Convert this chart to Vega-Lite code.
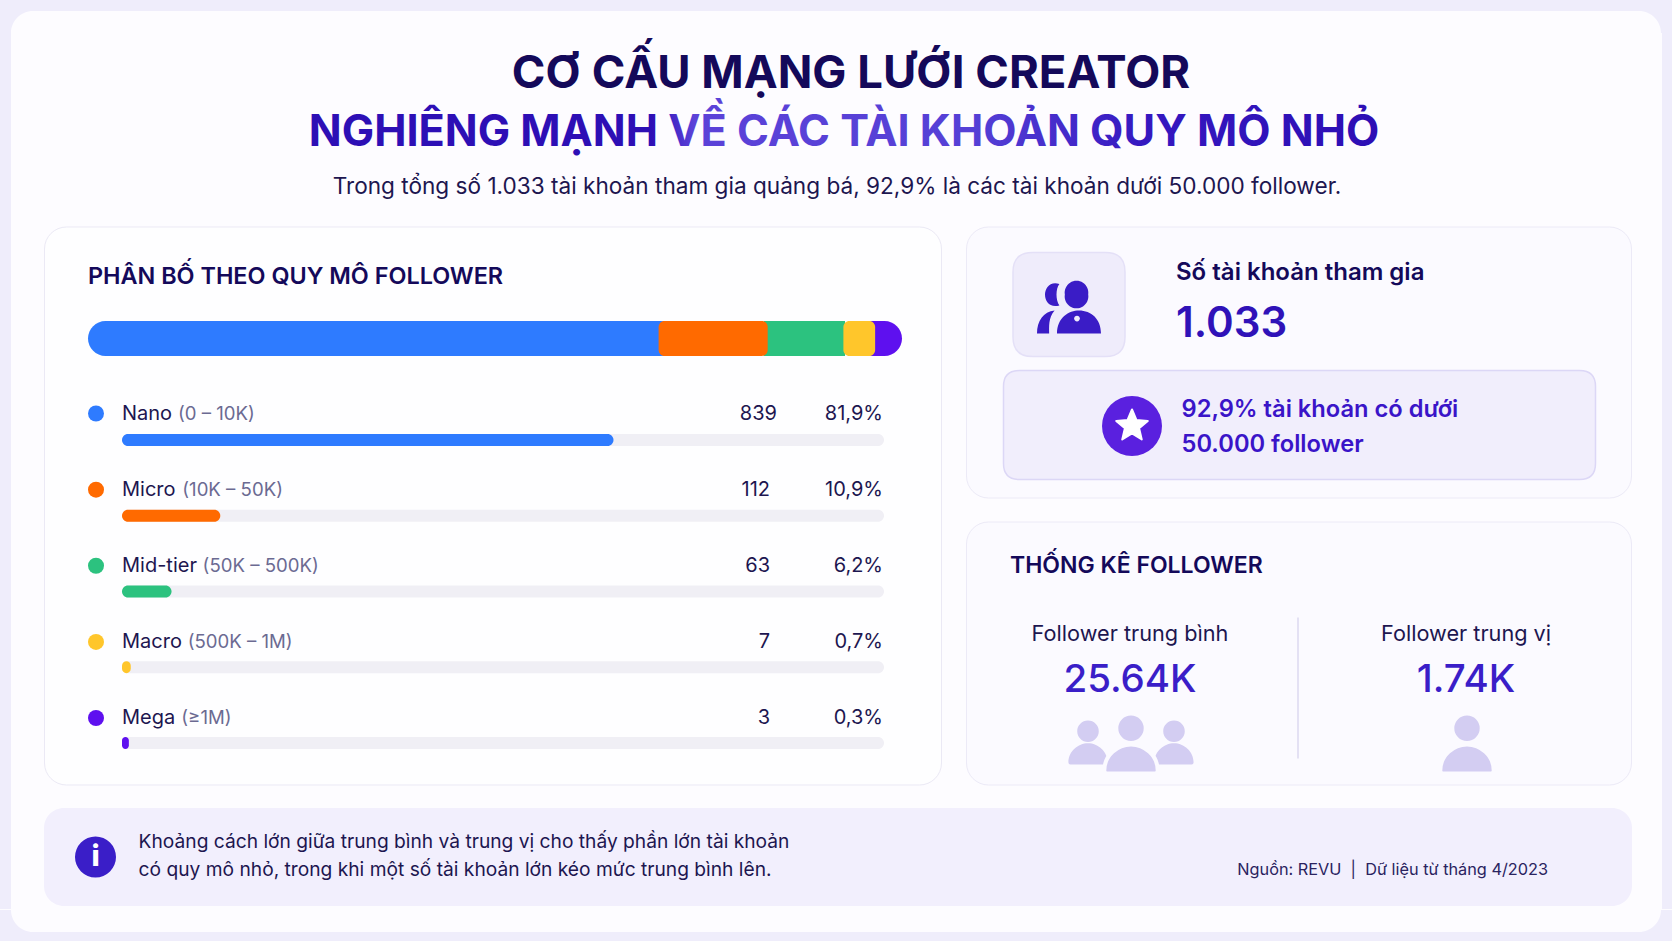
{
"$schema":"https://vega.github.io/schema/vega-lite/v6.json",
"padding":0,
"background":"#fdfcff",
"config":{"view":{"stroke":null},"font":"Inter","text":{"font":"Inter","baseline":"middle"},"axis":{"disable":true}},
"datasets":{
"tiers":[
{"tier":"Nano","range":"(0 – 10K)","count":839,"share":"81,9%","stackStart":0,"stackEnd":72.5,"barPct":64.5},
{"tier":"Micro","range":"(10K – 50K)","count":112,"share":"10,9%","stackStart":70.1,"stackEnd":83.5,"barPct":12.9},
{"tier":"Mid-tier","range":"(50K – 500K)","count":63,"share":"6,2%","stackStart":83,"stackEnd":93,"barPct":6.5},
{"tier":"Macro","range":"(500K – 1M)","count":7,"share":"0,7%","stackStart":92.8,"stackEnd":96.7,"barPct":1.15},
{"tier":"Mega","range":"(≥1M)","count":3,"share":"0,3%","stackStart":94.3,"stackEnd":100,"barPct":0.9}
],
"header":[
{"slot":"t1","text":"CƠ CẤU MẠNG LƯỚI CREATOR"},
{"slot":"t2","text":"NGHIÊNG MẠNH VỀ CÁC TÀI KHOẢN QUY MÔ NHỎ"},
{"slot":"sub","text":"Trong tổng số 1.033 tài khoản tham gia quảng bá, 92,9% là các tài khoản dưới 50.000 follower."}
],
"stats":[
{"stat":"mean","label":"Follower trung bình","value":"25.64K"},
{"stat":"median","label":"Follower trung vị","value":"1.74K"}
],
"one":[{"n":1}]
},
"spacing":0,
"vconcat":[
{"width":1672,"height":33,
 "data":{"name":"one"},
 "mark":{"type":"point","filled":true,"size":2795584,"color":"#efedfb","opacity":1,"strokeWidth":0,"shape":"M-1,0L1,0L1,.03947L.98684,.03947A.02632,.02632 0 0 0 .96053,.01316L-.96053,.01316A.02632,.02632 0 0 0 -.98684,.03947L-1,.03947Z"},
 "encoding":{
  "x":{"datum":"frame","type":"nominal","axis":null,"scale":{"type":"point","domain":["frame","other"],"range":[836,836],"padding":0}},
  "y":{"datum":"frame","type":"nominal","axis":null,"scale":{"type":"point","domain":["frame","other"],"range":[0,0],"padding":0}}
 }},
{"spacing":0,"hconcat":[
 {"width":11,"height":876,"view":{"fill":"#efedfb"},"data":{"values":[]},"mark":"rect","encoding":{}},
 {"width":31.5,"height":1,"data":{"values":[]},"mark":"rect","encoding":{}},
 {"spacing":22.5,"vconcat":[
  {"width":1587,"height":170,"data":{"name":"header"},
   "resolve":{"scale":{"y":"independent"}},
   "encoding":{
    "x":{"field":"slot","type":"nominal","axis":null,"scale":{"type":"point","domain":["sub","t2","t1"],"range":[793,807],"padding":0}},
    "text":{"field":"text","type":"nominal"}},
   "layer":[
    {"transform":[{"filter":"datum.slot==='t1'"}],"mark":{"type":"text","align":"center","fontSize":45.5,"fontWeight":700,"color":"#14095a"},
     "encoding":{"y":{"field":"slot","type":"nominal","axis":null,"scale":{"type":"point","domain":["t1","t2"],"range":[41,100],"padding":0}}}},
    {"transform":[{"filter":"datum.slot==='t2'"}],"mark":{"type":"text","align":"center","fontSize":43.2,"fontWeight":700,"fill":{"gradient":"linear","x1":0,"x2":1,"y1":0,"y2":0,"stops":[{"offset":0,"color":"#2d0fb5"},{"offset":0.32,"color":"#2d0fb5"},{"offset":0.36,"color":"#5b42d8"},{"offset":0.62,"color":"#5540d6"},{"offset":0.78,"color":"#3518c0"},{"offset":1,"color":"#2c0eb4"}]}},
     "encoding":{"y":{"field":"slot","type":"nominal","axis":null,"scale":{"type":"point","domain":["t1","t2"],"range":[41,100],"padding":0}}}},
    {"transform":[{"filter":"datum.slot==='sub'"}],"mark":{"type":"text","align":"center","fontSize":22.6,"fontWeight":400,"color":"#1d1650"},
     "encoding":{"y":{"field":"slot","type":"nominal","axis":null,"scale":{"type":"point","domain":["t2","sub"],"range":[100,153.5],"padding":0}}}}
   ]},
  {"spacing":23,"hconcat":[
   {"width":897,"height":558,"view":{"fill":"#fefeff","stroke":"#ebe9f5","strokeWidth":1,"cornerRadius":22},
    "resolve":{"scale":{"x":"independent","y":"independent"}},
    "layer":[
     {"data":{"values":[{"text":"PHÂN BỐ THEO QUY MÔ FOLLOWER"}]},
      "mark":{"type":"text","align":"left","fontSize":23.4,"fontWeight":600,"color":"#14095a"},
      "encoding":{"text":{"field":"text"},
       "x":{"datum":"title","type":"nominal","axis":null,"scale":{"type":"point","domain":["title","other"],"range":[44,78],"padding":0}},
       "y":{"datum":"title","type":"nominal","axis":null,"scale":{"type":"point","domain":["title","stack"],"range":[50,112],"padding":0}}}},
     {"data":{"name":"tiers"},"transform":[{"filter":"datum.tier==='Nano'"}],
      "mark":{"type":"bar","height":35,"cornerRadius":17.5},
      "encoding":{"x":{"field":"stackStart","type":"quantitative","axis":null,"scale":{"domain":[0,100],"range":[44,858]}},"x2":{"field":"stackEnd"},
       "y":{"datum":"stack","type":"nominal","axis":null,"scale":{"type":"point","domain":["title","stack"],"range":[50,112],"padding":0}},
       "color":{"field":"tier","type":"nominal","legend":null,"scale":{"domain":["Nano","Micro","Mid-tier","Macro","Mega"],"range":["#2e7bff","#ff6a00","#2cc27f","#ffc62b","#5e10ef"]}}}},
     {"data":{"name":"tiers"},"transform":[{"filter":"datum.tier==='Mega'"}],
      "mark":{"type":"bar","height":35,"cornerRadius":17.5},
      "encoding":{"x":{"field":"stackStart","type":"quantitative","axis":null,"scale":{"domain":[0,100],"range":[44,858]}},"x2":{"field":"stackEnd"},
       "y":{"datum":"stack","type":"nominal","axis":null,"scale":{"type":"point","domain":["title","stack"],"range":[50,112],"padding":0}},
       "color":{"field":"tier","type":"nominal","legend":null,"scale":{"domain":["Nano","Micro","Mid-tier","Macro","Mega"],"range":["#2e7bff","#ff6a00","#2cc27f","#ffc62b","#5e10ef"]}}}},
     {"data":{"name":"tiers"},"transform":[{"filter":"datum.tier==='Mid-tier'"}],
      "mark":{"type":"bar","height":35},
      "encoding":{"x":{"field":"stackStart","type":"quantitative","axis":null,"scale":{"domain":[0,100],"range":[44,858]}},"x2":{"field":"stackEnd"},
       "y":{"datum":"stack","type":"nominal","axis":null,"scale":{"type":"point","domain":["title","stack"],"range":[50,112],"padding":0}},
       "color":{"field":"tier","type":"nominal","legend":null,"scale":{"domain":["Nano","Micro","Mid-tier","Macro","Mega"],"range":["#2e7bff","#ff6a00","#2cc27f","#ffc62b","#5e10ef"]}}}},
     {"data":{"name":"tiers"},"transform":[{"filter":"datum.tier==='Micro'||datum.tier==='Macro'"}],
      "mark":{"type":"bar","height":35,"cornerRadius":6},
      "encoding":{"x":{"field":"stackStart","type":"quantitative","axis":null,"scale":{"domain":[0,100],"range":[44,858]}},"x2":{"field":"stackEnd"},
       "y":{"datum":"stack","type":"nominal","axis":null,"scale":{"type":"point","domain":["title","stack"],"range":[50,112],"padding":0}},
       "color":{"field":"tier","type":"nominal","legend":null,"scale":{"domain":["Nano","Micro","Mid-tier","Macro","Mega"],"range":["#2e7bff","#ff6a00","#2cc27f","#ffc62b","#5e10ef"]}}}},
     {"data":{"name":"tiers"},
      "mark":{"type":"point","filled":true,"size":256,"opacity":1},
      "encoding":{"x":{"datum":"dot","type":"nominal","axis":null,"scale":{"type":"point","domain":["dot","label"],"range":[52,78],"padding":0}},
       "y":{"field":"tier","type":"nominal","axis":null,"scale":{"type":"point","domain":["Nano","Micro","Mid-tier","Macro","Mega"],"range":[187,491.5],"padding":0}},
       "color":{"field":"tier","type":"nominal","legend":null,"scale":{"domain":["Nano","Micro","Mid-tier","Macro","Mega"],"range":["#2e7bff","#ff6a00","#2cc27f","#ffc62b","#5e10ef"]}}}},
     {"data":{"name":"tiers"},
      "mark":{"type":"text","align":"left","fontSize":20,"color":"#1d1650"},
      "encoding":{"text":{"field":"tier"},"x":{"datum":"label","type":"nominal","axis":null,"scale":{"type":"point","domain":["dot","label"],"range":[52,78],"padding":0}},
       "y":{"field":"tier","type":"nominal","axis":null,"scale":{"type":"point","domain":["Nano","Micro","Mid-tier","Macro","Mega"],"range":[187,491.5],"padding":0}}}},
     {"data":{"name":"tiers"},"transform":[{"filter":"datum.tier==='Nano'"}],
      "mark":{"type":"text","align":"left","fontSize":18.6,"color":"#6b6a92"},
      "encoding":{"text":{"field":"range"},"x":{"datum":"range","type":"nominal","axis":null,"scale":{"type":"point","domain":["name","range"],"range":[78,134],"padding":0}},
       "y":{"field":"tier","type":"nominal","axis":null,"scale":{"type":"point","domain":["Nano","Micro","Mid-tier","Macro","Mega"],"range":[187,491.5],"padding":0}}}},
     {"data":{"name":"tiers"},"transform":[{"filter":"datum.tier==='Micro'"}],
      "mark":{"type":"text","align":"left","fontSize":18.6,"color":"#6b6a92"},
      "encoding":{"text":{"field":"range"},"x":{"datum":"range","type":"nominal","axis":null,"scale":{"type":"point","domain":["name","range"],"range":[78,138.3],"padding":0}},
       "y":{"field":"tier","type":"nominal","axis":null,"scale":{"type":"point","domain":["Nano","Micro","Mid-tier","Macro","Mega"],"range":[187,491.5],"padding":0}}}},
     {"data":{"name":"tiers"},"transform":[{"filter":"datum.tier==='Mid-tier'"}],
      "mark":{"type":"text","align":"left","fontSize":18.6,"color":"#6b6a92"},
      "encoding":{"text":{"field":"range"},"x":{"datum":"range","type":"nominal","axis":null,"scale":{"type":"point","domain":["name","range"],"range":[78,158.6],"padding":0}},
       "y":{"field":"tier","type":"nominal","axis":null,"scale":{"type":"point","domain":["Nano","Micro","Mid-tier","Macro","Mega"],"range":[187,491.5],"padding":0}}}},
     {"data":{"name":"tiers"},"transform":[{"filter":"datum.tier==='Macro'"}],
      "mark":{"type":"text","align":"left","fontSize":18.6,"color":"#6b6a92"},
      "encoding":{"text":{"field":"range"},"x":{"datum":"range","type":"nominal","axis":null,"scale":{"type":"point","domain":["name","range"],"range":[78,143.7],"padding":0}},
       "y":{"field":"tier","type":"nominal","axis":null,"scale":{"type":"point","domain":["Nano","Micro","Mid-tier","Macro","Mega"],"range":[187,491.5],"padding":0}}}},
     {"data":{"name":"tiers"},"transform":[{"filter":"datum.tier==='Mega'"}],
      "mark":{"type":"text","align":"left","fontSize":18.6,"color":"#6b6a92"},
      "encoding":{"text":{"field":"range"},"x":{"datum":"range","type":"nominal","axis":null,"scale":{"type":"point","domain":["name","range"],"range":[78,137.3],"padding":0}},
       "y":{"field":"tier","type":"nominal","axis":null,"scale":{"type":"point","domain":["Nano","Micro","Mid-tier","Macro","Mega"],"range":[187,491.5],"padding":0}}}},
     {"data":{"name":"tiers"},"transform":[{"filter":"datum.tier!=='Nano'"}],
      "mark":{"type":"text","align":"right","fontSize":20,"color":"#1d1650"},
      "encoding":{"text":{"field":"count","type":"quantitative"},"x":{"datum":"count","type":"nominal","axis":null,"scale":{"type":"point","domain":["count","share"],"range":[726,839],"padding":0}},
       "y":{"field":"tier","type":"nominal","axis":null,"scale":{"type":"point","domain":["Nano","Micro","Mid-tier","Macro","Mega"],"range":[187,491.5],"padding":0}}}},
     {"data":{"name":"tiers"},"transform":[{"filter":"datum.tier==='Nano'"}],
      "mark":{"type":"text","align":"right","fontSize":20,"color":"#1d1650"},
      "encoding":{"text":{"field":"count","type":"quantitative"},"x":{"datum":"count","type":"nominal","axis":null,"scale":{"type":"point","domain":["count","share"],"range":[733,839],"padding":0}},
       "y":{"field":"tier","type":"nominal","axis":null,"scale":{"type":"point","domain":["Nano","Micro","Mid-tier","Macro","Mega"],"range":[187,491.5],"padding":0}}}},
     {"data":{"name":"tiers"},
      "mark":{"type":"text","align":"right","fontSize":20,"color":"#1d1650"},
      "encoding":{"text":{"field":"share"},"x":{"datum":"share","type":"nominal","axis":null,"scale":{"type":"point","domain":["count","share"],"range":[726,839],"padding":0}},
       "y":{"field":"tier","type":"nominal","axis":null,"scale":{"type":"point","domain":["Nano","Micro","Mid-tier","Macro","Mega"],"range":[187,491.5],"padding":0}}}},
     {"data":{"name":"tiers"},
      "mark":{"type":"bar","height":12,"cornerRadius":6,"color":"#f0eff5"},
      "encoding":{"x":{"datum":100,"type":"quantitative","stack":null,"axis":null,"scale":{"domain":[0,100],"range":[78,840]}},
       "y":{"field":"tier","type":"nominal","axis":null,"scale":{"type":"point","domain":["Nano","Micro","Mid-tier","Macro","Mega"],"range":[213.5,516.5],"padding":0}}}},
     {"data":{"name":"tiers"},
      "mark":{"type":"bar","height":12,"cornerRadius":6},
      "encoding":{"x":{"field":"barPct","type":"quantitative","stack":null,"axis":null,"scale":{"domain":[0,100],"range":[78,840]}},
       "y":{"field":"tier","type":"nominal","axis":null,"scale":{"type":"point","domain":["Nano","Micro","Mid-tier","Macro","Mega"],"range":[213.5,516.5],"padding":0}},
       "color":{"field":"tier","type":"nominal","legend":null,"scale":{"domain":["Nano","Micro","Mid-tier","Macro","Mega"],"range":["#2e7bff","#ff6a00","#2cc27f","#ffc62b","#5e10ef"]}}}}
    ]},
   {"spacing":22,"vconcat":[
    {"width":665,"height":271,"view":{"fill":"#fbfaff","stroke":"#eceaf7","strokeWidth":1,"cornerRadius":22},
     "resolve":{"scale":{"x":"independent","y":"independent"}},
     "layer":[
      {"data":{"name":"one"},
       "mark":{"type":"point","filled":true,"opacity":1,"size":12544,"fill":"#efecfb","stroke":"#e4e0f7","strokeWidth":1.5,"shape":"M-.65,-.93L.65,-.93Q1,-.93 1,-.58L1,.58Q1,.93 .65,.93L-.65,.93Q-1,.93 -1,.58L-1,-.58Q-1,-.93 -.65,-.93Z"},
       "encoding":{"x":{"datum":"tile","type":"nominal","axis":null,"scale":{"type":"point","domain":["tile","callout"],"range":[103,333.5],"padding":0}},
        "y":{"datum":"tile","type":"nominal","axis":null,"scale":{"type":"point","domain":["tile","callout"],"range":[78,198.5],"padding":0}}}},
      {"data":{"name":"one"},
       "mark":{"type":"point","filled":true,"opacity":1,"size":350464,"fill":"#f1eefc","stroke":"#dcd7f6","strokeWidth":1.5,"shape":"M-.946,-.184L.946,-.184Q1,-.184 1,-.13L1,.13Q1,.184 .946,.184L-.946,.184Q-1,.184 -1,.13L-1,-.13Q-1,-.184 -.946,-.184Z"},
       "encoding":{"x":{"datum":"callout","type":"nominal","axis":null,"scale":{"type":"point","domain":["tile","callout"],"range":[103,333.5],"padding":0}},
        "y":{"datum":"callout","type":"nominal","axis":null,"scale":{"type":"point","domain":["tile","callout"],"range":[78,198.5],"padding":0}}}},
      {"data":{"name":"one"},
       "mark":{"type":"point","filled":true,"opacity":1,"size":4096,"color":"#3a1cc6","strokeWidth":0,"shape":"M-.13,-.42A.37,.37 0 1 1 .6,-.42A.37,.37 0 1 1 -.13,-.42ZM-.3,-.75C-.6,-.85 -.75,-.6 -.75,-.42C-.75,-.2 -.6,0 -.3,-.08C-.42,-.25 -.42,-.6 -.3,-.75ZM-.375,.8C-.375,.3 0,.08 .31,.08C.7,.08 1,.35 1,.8ZM-1,.8C-1,.4 -.8,.12 -.45,.08C-.65,.3 -.62,.6 -.62,.8Z"},
       "encoding":{"x":{"datum":"icon","type":"nominal","axis":null,"scale":{"type":"point","domain":["icon","star"],"range":[103,166],"padding":0}},
        "y":{"datum":"icon","type":"nominal","axis":null,"scale":{"type":"point","domain":["icon","star"],"range":[81.5,199.5],"padding":0}}}},
      {"data":{"name":"one"},
       "mark":{"type":"point","filled":true,"opacity":1,"size":4096,"color":"#efecfb","strokeWidth":0,"shape":"M.16,.33A.09,.09 0 1 1 .34,.33A.09,.09 0 1 1 .16,.33Z"},
       "encoding":{"x":{"datum":"icon","type":"nominal","axis":null,"scale":{"type":"point","domain":["icon","star"],"range":[103,166],"padding":0}},
        "y":{"datum":"icon","type":"nominal","axis":null,"scale":{"type":"point","domain":["icon","star"],"range":[81.5,199.5],"padding":0}}}},
      {"data":{"name":"one"},
       "mark":{"type":"point","shape":"circle","filled":true,"opacity":1,"size":3600,"color":"#5a20df"},
       "encoding":{"x":{"datum":"star","type":"nominal","axis":null,"scale":{"type":"point","domain":["icon","star"],"range":[103,166],"padding":0}},
        "y":{"datum":"star","type":"nominal","axis":null,"scale":{"type":"point","domain":["icon","star"],"range":[81.5,199.5],"padding":0}}}},
      {"data":{"name":"one"},
       "mark":{"type":"point","filled":true,"opacity":1,"size":1100,"fill":"#ffffff","stroke":"#ffffff","strokeWidth":2,"strokeJoin":"round","shape":"M0,-1L.265,-.364L.951,-.309L.428,.139L.588,.809L0,.45L-.588,.809L-.428,.139L-.951,-.309L-.265,-.364Z"},
       "encoding":{"x":{"datum":"star","type":"nominal","axis":null,"scale":{"type":"point","domain":["icon","star"],"range":[103,166],"padding":0}},
        "y":{"datum":"star","type":"nominal","axis":null,"scale":{"type":"point","domain":["icon","star"],"range":[81.5,199.5],"padding":0}}}},
      {"data":{"values":[{"text":"Số tài khoản tham gia"}]},
       "mark":{"type":"text","align":"left","fontSize":24,"fontWeight":600,"color":"#14095a"},
       "encoding":{"text":{"field":"text"},"x":{"datum":"kpi","type":"nominal","axis":null,"scale":{"type":"point","domain":["kpi","callout"],"range":[210,215.5],"padding":0}},
        "y":{"datum":"label","type":"nominal","axis":null,"scale":{"type":"point","domain":["label","value"],"range":[46.5,97],"padding":0}}}},
      {"data":{"values":[{"text":"1.033"}]},
       "mark":{"type":"text","align":"left","fontSize":42,"fontWeight":600,"color":"#2f12b8"},
       "encoding":{"text":{"field":"text"},"x":{"datum":"kpi","type":"nominal","axis":null,"scale":{"type":"point","domain":["kpi","callout"],"range":[210,215.5],"padding":0}},
        "y":{"datum":"value","type":"nominal","axis":null,"scale":{"type":"point","domain":["label","value"],"range":[46.5,97],"padding":0}}}},
      {"data":{"values":[{"line":"l1","text":"92,9% tài khoản có dưới"},{"line":"l2","text":"50.000 follower"}]},
       "mark":{"type":"text","align":"left","fontSize":23.7,"fontWeight":600,"color":"#3a14c8"},
       "encoding":{"text":{"field":"text"},"x":{"datum":"callout","type":"nominal","axis":null,"scale":{"type":"point","domain":["kpi","callout"],"range":[210,215.5],"padding":0}},
        "y":{"field":"line","type":"nominal","axis":null,"scale":{"type":"point","domain":["l1","l2"],"range":[183.5,218.5],"padding":0}}}}
     ]},
    {"width":665,"height":263,"view":{"fill":"#fbfaff","stroke":"#eceaf7","strokeWidth":1,"cornerRadius":22},
     "resolve":{"scale":{"x":"independent","y":"independent"}},
     "layer":[
      {"data":{"values":[{"text":"THỐNG KÊ FOLLOWER"}]},
       "mark":{"type":"text","align":"left","fontSize":23,"fontWeight":600,"color":"#14095a"},
       "encoding":{"text":{"field":"text"},"x":{"datum":"title","type":"nominal","axis":null,"scale":{"type":"point","domain":["title","other"],"range":[44,100],"padding":0}},
        "y":{"datum":"title","type":"nominal","axis":null,"scale":{"type":"point","domain":["title","other"],"range":[44,100],"padding":0}}}},
      {"data":{"name":"stats"},
       "mark":{"type":"text","align":"center","fontSize":21.7,"color":"#1d1650"},
       "encoding":{"text":{"field":"label"},"x":{"field":"stat","type":"nominal","axis":null,"scale":{"type":"point","domain":["mean","divider","median"],"range":[164,500],"padding":0}},
        "y":{"datum":"label","type":"nominal","axis":null,"scale":{"type":"point","domain":["label","value"],"range":[112,158],"padding":0}}}},
      {"data":{"name":"stats"},
       "mark":{"type":"text","align":"center","fontSize":38.5,"fontWeight":500,"color":"#3a1ec8"},
       "encoding":{"text":{"field":"value"},"x":{"field":"stat","type":"nominal","axis":null,"scale":{"type":"point","domain":["mean","divider","median"],"range":[164,500],"padding":0}},
        "y":{"datum":"value","type":"nominal","axis":null,"scale":{"type":"point","domain":["label","value"],"range":[112,158],"padding":0}}}},
      {"data":{"name":"one"},
       "mark":{"type":"point","filled":false,"opacity":1,"size":19881,"stroke":"#dcd9f0","strokeWidth":1.5,"shape":"M0,-1L0,1"},
       "encoding":{"x":{"datum":"divider","type":"nominal","axis":null,"scale":{"type":"point","domain":["mean","divider","median"],"range":[164,500],"padding":0}},
        "y":{"datum":"divider","type":"nominal","axis":null,"scale":{"type":"point","domain":["divider","people"],"range":[166.5,222],"padding":0}}}},
      {"data":{"values":[{"side":"left"},{"side":"right"}]},
       "mark":{"type":"point","filled":true,"opacity":1,"size":1936,"color":"#d3cdf2","strokeWidth":0,"shape":"M-.49,-.51A.49,.49 0 1 1 .49,-.51A.49,.49 0 1 1 -.49,-.51ZM-.89,.9C-.89,.4 -.45,.03 0,.03C.45,.03 .89,.4 .89,.9Q.89,1 .8,1L-.8,1Q-.89,1 -.89,.9Z"},
       "encoding":{"x":{"field":"side","type":"nominal","axis":null,"scale":{"type":"point","domain":["left","right"],"range":[122,208],"padding":0}},
        "y":{"datum":"side","type":"nominal","axis":null,"scale":{"type":"point","domain":["side","main"],"range":[221,222],"padding":0}}}},
      {"data":{"name":"stats"},
       "mark":{"type":"point","filled":true,"opacity":1,"size":3600,"fill":"#d3cdf2","stroke":"#fbfaff","strokeWidth":4,"shape":"M-.49,-.51A.49,.49 0 1 1 .49,-.51A.49,.49 0 1 1 -.49,-.51ZM-.89,.9C-.89,.4 -.45,.03 0,.03C.45,.03 .89,.4 .89,.9Q.89,1 .8,1L-.8,1Q-.89,1 -.89,.9Z"},
       "encoding":{"x":{"field":"stat","type":"nominal","axis":null,"scale":{"type":"point","domain":["mean","divider","median"],"range":[165,501],"padding":0}},
        "y":{"datum":"main","type":"nominal","axis":null,"scale":{"type":"point","domain":["side","main"],"range":[221,222],"padding":0}}}}
     ]}
   ]}
  ]},
  {"width":1588,"height":98,"view":{"fill":"#f2effd","cornerRadius":20},
   "resolve":{"scale":{"x":"independent","y":"independent"}},
   "layer":[
    {"data":{"name":"one"},
     "mark":{"type":"point","shape":"circle","filled":true,"opacity":1,"size":1681,"color":"#3a1ec8"},
     "encoding":{"x":{"datum":"icon","type":"nominal","axis":null,"scale":{"type":"point","domain":["icon","note"],"range":[51.5,94.6],"padding":0}},
      "y":{"datum":"icon","type":"nominal","axis":null,"scale":{"type":"point","domain":["icon","other"],"range":[49,62],"padding":0}}}},
    {"data":{"values":[{"text":"i"}]},
     "mark":{"type":"text","align":"center","fontSize":29,"fontWeight":800,"color":"#ffffff"},
     "encoding":{"text":{"field":"text"},"x":{"datum":"icon","type":"nominal","axis":null,"scale":{"type":"point","domain":["icon","note"],"range":[51.5,94.6],"padding":0}},
      "y":{"datum":"icon","type":"nominal","axis":null,"scale":{"type":"point","domain":["icon","other"],"range":[49,62],"padding":0}}}},
    {"data":{"values":[{"line":"l1","text":"Khoảng cách lớn giữa trung bình và trung vị cho thấy phần lớn tài khoản"},{"line":"l2","text":"có quy mô nhỏ, trong khi một số tài khoản lớn kéo mức trung bình lên."}]},
     "mark":{"type":"text","align":"left","fontSize":19.2,"color":"#1d1650"},
     "encoding":{"text":{"field":"text"},"x":{"datum":"note","type":"nominal","axis":null,"scale":{"type":"point","domain":["icon","note"],"range":[51.5,94.6],"padding":0}},
      "y":{"field":"line","type":"nominal","axis":null,"scale":{"type":"point","domain":["l1","l2"],"range":[34,62],"padding":0}}}},
    {"data":{"values":[{"text":"Nguồn: REVU \u00a0|\u00a0 Dữ liệu từ tháng 4/2023"}]},
     "mark":{"type":"text","align":"right","fontSize":16.3,"color":"#2a2360"},
     "encoding":{"text":{"field":"text"},"x":{"datum":"source","type":"nominal","axis":null,"scale":{"type":"point","domain":["note","source"],"range":[94.6,1504],"padding":0}},
      "y":{"datum":"source","type":"nominal","axis":null,"scale":{"type":"point","domain":["l1","source"],"range":[34,62],"padding":0}}}}
   ]}
 ]},
 {"width":29.5,"height":1,"data":{"values":[]},"mark":"rect","encoding":{}},
 {"width":11,"height":876,"view":{"fill":"#efedfb"},"data":{"values":[]},"mark":"rect","encoding":{}}
]},
{"width":1672,"height":32,
 "data":{"name":"one"},
 "mark":{"type":"point","filled":true,"size":2795584,"color":"#efedfb","opacity":1,"strokeWidth":0,"shape":"M-1,0L1,0L1,-.03828L.98684,-.03828A.02632,.02632 0 0 1 .96053,-.01196L-.96053,-.01196A.02632,.02632 0 0 1 -.98684,-.03828L-1,-.03828Z"},
 "encoding":{
  "x":{"datum":"frame","type":"nominal","axis":null,"scale":{"type":"point","domain":["frame","other"],"range":[836,836],"padding":0}},
  "y":{"datum":"frame","type":"nominal","axis":null,"scale":{"type":"point","domain":["frame","other"],"range":[32,32],"padding":0}}
 }}
]
}
